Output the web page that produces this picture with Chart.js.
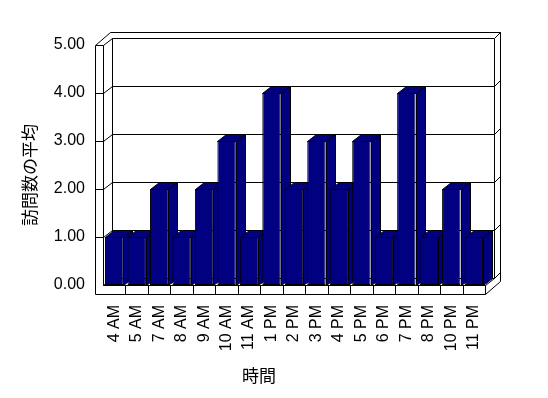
<!DOCTYPE html>
<html><head><meta charset="utf-8">
<script src="https://cdn.jsdelivr.net/npm/chart.js@4"></script>
<style>html,body{margin:0;padding:0;background:#fff}</style>
</head><body>
<canvas id="c" width="548" height="398" style="width:548px;height:398px;display:block"></canvas>
<script>
const categories = ['4 AM','5 AM','7 AM','8 AM','9 AM','10 AM','11 AM','1 PM','2 PM','3 PM','4 PM','5 PM','6 PM','7 PM','8 PM','10 PM','11 PM'];
const visitsAvg = [1,1,2,1,2,3,1,4,2,3,2,3,1,4,1,2,1];
const yMin = 0, yMax = 5, yStep = 1;
const xTitle = '時間';
const yTitle = '訪問数の平均';

const BAR = '#000080';
const DX = 9, DY = -7, OX = 15, OY = -13, WALL = 8, FLOOR = 9;

function seg(ctx, pts){
  ctx.beginPath();
  ctx.moveTo(pts[0][0] + 0.5, pts[0][1] + 0.5);
  for (let i = 1; i < pts.length; i++) ctx.lineTo(pts[i][0] + 0.5, pts[i][1] + 0.5);
  ctx.stroke();
}
function poly(ctx, pts){
  ctx.beginPath();
  ctx.moveTo(pts[0][0] + 0.5, pts[0][1] + 0.5);
  for (let i = 1; i < pts.length; i++) ctx.lineTo(pts[i][0] + 0.5, pts[i][1] + 0.5);
  ctx.closePath();
  ctx.fill();
  ctx.stroke();
}

const frame3d = {
  id: 'frame3d',
  beforeDatasetsDraw(chart){
    const {ctx, chartArea: a, scales: {x, y}} = chart;
    const L = Math.round(a.left), R = Math.round(a.right), T = Math.round(a.top), B = Math.round(a.bottom);
    ctx.save();
    ctx.strokeStyle = '#000'; ctx.lineWidth = 1;
    // back wall outer
    seg(ctx, [[L - WALL + OX, T + OY], [R + OX, T + OY], [R + OX, B + FLOOR + OY]]);
    // back wall inner face
    seg(ctx, [[L + DX, T + DY], [R + DX, T + DY], [R + DX, B + DY]]);
    seg(ctx, [[R + DX, T + DY], [R + OX, T + OY]]);
    // left wall
    seg(ctx, [[L - WALL, B + FLOOR], [L - WALL, T], [L, T], [L, B]]);
    seg(ctx, [[L - WALL, T], [L - WALL + OX, T + OY]]);
    seg(ctx, [[L, T], [L + DX, T + DY], [L + DX, B + DY]]);
    // floor
    seg(ctx, [[L, B], [R, B], [R, B + FLOOR], [L - WALL, B + FLOOR]]);
    seg(ctx, [[L, B], [L + DX, B + DY], [R + DX, B + DY], [R + OX, B + OY]]);
    seg(ctx, [[R, B], [R + DX, B + DY]]);
    seg(ctx, [[R, B + FLOOR], [R + OX, B + FLOOR + OY]]);
    // gridlines
    y.ticks.forEach(t => {
      if (t.value <= yMin || t.value >= yMax) return;
      const yy = Math.round(y.getPixelForValue(t.value));
      seg(ctx, [[L - WALL, yy], [L, yy], [L + DX, yy + DY], [R + DX, yy + DY], [R + OX, yy + OY]]);
    });
    // category separators on floor front
    const n = categories.length;
    for (let i = 1; i < n; i++) {
      const xb = Math.round((x.getPixelForValue(i - 1) + x.getPixelForValue(i)) / 2);
      seg(ctx, [[xb, B], [xb, B + FLOOR]]);
    }
    // bar sides and tops
    const meta = chart.getDatasetMeta(0);
    ctx.fillStyle = BAR;
    meta.data.forEach(el => {
      const xl = Math.round(el.x - el.width / 2), xr = Math.round(el.x + el.width / 2);
      const yt = Math.round(el.y), yb = Math.round(el.base);
      poly(ctx, [[xr, yt], [xr + DX, yt + DY], [xr + DX, yb + DY], [xr, yb]]);
      poly(ctx, [[xl, yt], [xl + DX, yt + DY], [xr + DX, yt + DY], [xr, yt]]);
    });
    ctx.restore();
  },
  afterDraw(chart){
    const ctx = chart.ctx;
    ctx.save();
    ctx.fillStyle = '#000';
    ctx.font = '17px "Noto Sans CJK JP"';
    ctx.textAlign = 'center';
    ctx.textBaseline = 'middle';
    ctx.fillText(xTitle, 259, 376);
    ctx.translate(30, 175);
    ctx.rotate(-Math.PI / 2);
    ctx.fillText(yTitle, 0, 0);
    ctx.restore();
  }
};

new Chart(document.getElementById('c'), {
  type: 'bar',
  data: {
    labels: categories,
    datasets: [{
      data: visitsAvg,
      backgroundColor: BAR,
      borderColor: '#000',
      borderWidth: 1,
      borderSkipped: false,
      barPercentage: 0.82,
      categoryPercentage: 1.0
    }]
  },
  options: {
    responsive: false,
    animation: false,
    devicePixelRatio: 1,
    layout: { padding: { top: 45, right: 63, left: 0, bottom: 0 } },
    plugins: { legend: { display: false }, tooltip: { enabled: false }, title: { display: false } },
    scales: {
      x: {
        grid: { display: false, drawTicks: false },
        border: { display: false },
        ticks: { color: '#000', font: { family: '"Liberation Sans", Arial, sans-serif', size: 16 }, minRotation: 90, maxRotation: 90, padding: 20, autoSkip: false },
        afterFit(s){ s.height = 113; }
      },
      y: {
        min: yMin, max: yMax,
        grid: { display: false, drawTicks: false },
        border: { display: false },
        ticks: { stepSize: yStep, color: '#000', font: { family: '"Liberation Sans", Arial, sans-serif', size: 16 }, padding: 18, callback: v => Number(v).toFixed(2) },
        afterFit(s){ s.width = 103; }
      }
    }
  },
  plugins: [frame3d]
});
</script>
</body></html>
